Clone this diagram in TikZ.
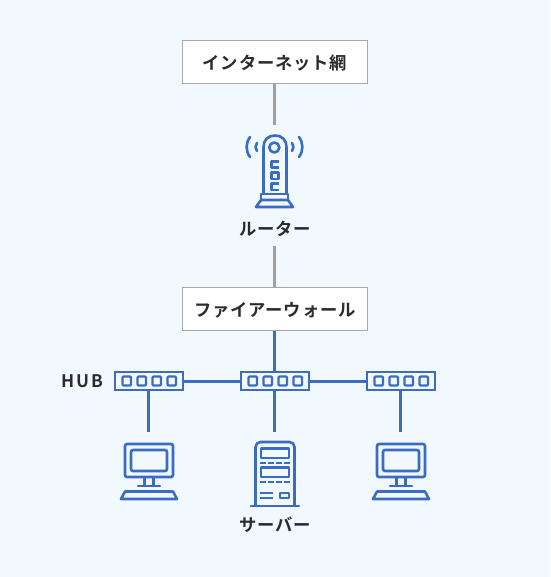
\documentclass[tikz,border=0pt]{standalone}
\usepackage{fontspec}
\setmainfont{Noto Sans}
\newfontfamily\jpfont[LetterSpace=5]{Noto Sans CJK JP Bold}
\newfontfamily\latfont[LetterSpace=12]{Noto Sans CJK JP Bold}
\definecolor{bgc}{HTML}{F1F8FE}
\definecolor{iconb}{HTML}{3B6CC4}
\definecolor{linegray}{HTML}{A0A0A0}
\definecolor{boxline}{HTML}{A8A8A8}
\definecolor{txt}{HTML}{2B2B2B}
\tikzset{
  x=1pt,y=-1pt,
  netbox/.style={draw=boxline,fill=white,line width=0.9pt,minimum width=185pt,minimum height=43pt,inner sep=0pt,text=txt,font=\jpfont\fontsize{17.3pt}{20pt}\selectfont},
  lbl/.style={inner sep=0pt,text=txt,font=\jpfont\fontsize{17.3pt}{20pt}\selectfont},
  graylink/.style={draw=linegray,line width=3pt},
  bluelink/.style={draw=iconb,line width=3pt},
  icon/.style={draw=iconb,line width=2.6pt,line join=round},
  icont/.style={draw=iconb,line width=2.2pt,line join=round,rounded corners=1pt},
  hubbox/.style={draw=iconb,line width=2.6pt,fill=bgc,minimum width=68pt,minimum height=18pt,inner sep=0pt},
  pics/hubports/.style={code={
    \foreach \dx in {-22,-7,8,23}{
      \draw[icont] (\dx-4.5,-4.5) rectangle (\dx+4,4.5);
    }
  }},
  pics/pc/.style={code={
    \draw[icon,rounded corners=2pt] (-24,-25) rectangle (24,8);
    \draw[icon,rounded corners=2pt] (-18,-19) rectangle (18,2);
    \draw[icon] (-4.5,8) -- (-4.5,16) (4.5,8) -- (4.5,16);
    \draw[icon,line cap=round] (-11,17) -- (11,17);
    \draw[icon] (-24,22.5) -- (24,22.5) -- (28,30) -- (-28,30) -- cycle;
  }}
}
\begin{document}
\begin{tikzpicture}
\useasboundingbox[fill=bgc] (0,0) rectangle (550,577);
% boxes
\node[netbox] (inet) at (275,62) {\raisebox{-7.4pt}[0pt][0pt]{インターネット網}};
\node[netbox] (fw) at (275,309) {\raisebox{-7.4pt}[0pt][0pt]{ファイアーウォール}};
\node[lbl] (router) at (275,229) {ルーター};
\node[lbl] (server) at (275,525) {サーバー};
\node[inner sep=0pt,text=txt,font=\latfont\fontsize{17.3pt}{20pt}\selectfont] (hublbl) at (82.5,381) {HUB};
% link ends
\coordinate (rt) at (274.8,125);
\coordinate (rb) at (274.8,246);
\coordinate (fwb) at (274.8,372);
\coordinate (pc1t) at (148.8,432);
\coordinate (svt) at (274.8,432);
\coordinate (pc2t) at (400.8,432);
% hubs
\node[hubbox] (h1) at (149,381) {};
\node[hubbox] (h2) at (275,381) {};
\node[hubbox] (h3) at (401,381) {};
% links
\draw[graylink] (inet.south -| rt) -- (rt);
\draw[graylink] (rb) -- (fw.north -| rb);
\draw[bluelink] (fw.south -| fwb) -- (fwb);
\draw[bluelink] (h1) -- (h2);
\draw[bluelink] (h2) -- (h3);
\draw[bluelink] (h1.south -| pc1t) -- (pc1t);
\draw[bluelink] (h2.south -| svt) -- (svt);
\draw[bluelink] (h3.south -| pc2t) -- (pc2t);
\pic at (h1.center) {hubports};
\pic at (h2.center) {hubports};
\pic at (h3.center) {hubports};
% PCs
\pic at (149,469) {pc};
\pic at (401,469) {pc};
% server
\draw[icon,rounded corners=5pt] (255.5,506) -- (255.5,442) -- (294.5,442) -- (294.5,506);
\draw[icon,line cap=round] (251,506) -- (299,506);
\draw[icon] (261,448.5) rectangle (289,458);
\draw[icon] (261,467.5) rectangle (289,477);
\draw[icon,line width=2.2pt,dash pattern=on 5.5pt off 2.6pt] (260,463) -- (290,463);
\draw[icon,line width=2.2pt,dash pattern=on 5.5pt off 2.6pt] (260,482) -- (290,482);
\draw[icon] (260,493) -- (273,493) (260,498) -- (273,498);
\draw[icon] (280,493) rectangle (289,498);
% router
\draw[icon] (263.5,193) -- (263.5,147) .. controls (263.5,140) and (268,135.5) .. (275,135.5) .. controls (282,135.5) and (286.5,140) .. (286.5,147) -- (286.5,193);
\draw[icon] (274.3,147.5) circle[radius=5];
\draw[icon] (278.5,161.5) -- (271.5,161.5) -- (271.5,167.5) -- (278.5,167.5);
\draw[icon] (271.5,172.5) rectangle (278.5,179);
\draw[icon] (278.5,183.5) -- (271.5,183.5) -- (271.5,190) -- (278.5,190);
\draw[icon] (261,200) -- (261,194) -- (288,194) -- (288,200);
\draw[icon] (261,200) -- (288,200) -- (293,207) -- (256,207) -- cycle;
\draw[icon,line cap=round] (250,137) .. controls (245.5,143) and (245.5,151) .. (250,157);
\draw[icon,line cap=round] (257,143) .. controls (255,145.5) and (255,148.5) .. (257,151);
\draw[icon,line cap=round] (299,137) .. controls (303.5,143) and (303.5,151) .. (299,157);
\draw[icon,line cap=round] (292,143) .. controls (294,145.5) and (294,148.5) .. (292,151);
\end{tikzpicture}
\end{document}
